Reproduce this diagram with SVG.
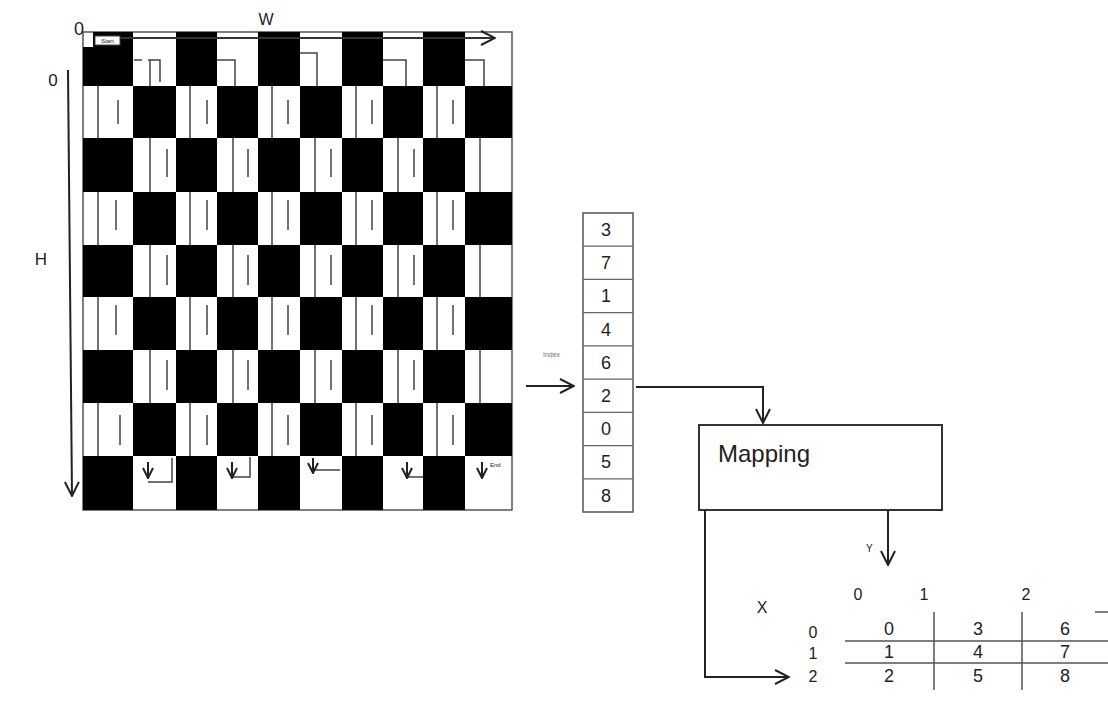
<svg xmlns="http://www.w3.org/2000/svg" width="1108" height="718" viewBox="0 0 1108 718">
<defs>
<style>
.t{font-family:"Liberation Sans",Arial,sans-serif;fill:#222}
.blk{fill:#000}
.gl{stroke:#444;stroke-width:1.5;fill:none}
.ln{stroke:#222;stroke-width:2;fill:none}
.bd{fill:none;stroke:#555;stroke-width:1.5}
</style>
<marker id="ah" viewBox="0 0 16 16" refX="15" refY="8" markerWidth="16" markerHeight="16" markerUnits="userSpaceOnUse" orient="auto"><path d="M1,1 L15,8 L1,15" fill="none" stroke="#222" stroke-width="2"/></marker>
<marker id="ahs" viewBox="0 0 12 12" refX="11" refY="6" markerWidth="12" markerHeight="12" markerUnits="userSpaceOnUse" orient="auto"><path d="M1,1 L11,6 L1,11" fill="none" stroke="#222" stroke-width="2"/></marker>
</defs>
<rect width="1108" height="718" fill="#fff"/>

<g id="board">
<rect class="bd" x="83" y="32" width="429" height="478"/>
<g class="gl">
<path d="M148,86V138M164,95V130M231,86V138M247,95V130M315,86V138M331,95V130M398,86V138M414,95V130M480,86V138"/>
<path d="M98,86V138M118,100V124M190,86V138M207,100V124M272,86V138M288,100V124M356,86V138M372,100V124M437,86V138M453,100V124"/>
<path d="M150,138V192M167,149V177M233,138V192M248,149V177M315,138V192M331,149V177M398,138V192M414,149V177M480,138V192"/>
<path d="M98,192V245M116,200V230M190,192V245M207,200V230M272,192V245M288,200V230M356,192V245M372,200V230M437,192V245M453,200V230"/>
<path d="M150,245V297M167,255V285M233,245V297M248,255V285M315,245V297M331,255V285M398,245V297M414,255V285M480,245V297"/>
<path d="M98,297V350M116,305V335M190,297V350M207,305V335M272,297V350M288,305V335M356,297V350M372,305V335M437,297V350M453,305V335"/>
<path d="M150,350V403M167,360V390M233,350V403M248,360V390M315,350V403M331,360V390M398,350V403M414,360V390M480,350V403"/>
<path d="M98,403V456M120,415V445M190,403V456M207,415V445M272,403V456M288,415V445M356,403V456M372,415V445M437,403V456M453,415V445"/>
<path d="M134,60H142M150,60V86M148,60H160V82M217,60H235V86M300,53H317V86M383,60H406V86M465,60H484V86"/>
<path d="M172,458V482H148M250,457V477H232M340,470H313M423,477H407"/>
</g>
<path class="blk" d="M93,32H133V86H83V47H93Z M176,32h41v54h-41z M258,32h42v54h-42z M342,32h41v54h-41z M423,32h42v54h-42z
M133,86h43v52h-43z M217,86h41v52h-41z M300,86h42v52h-42z M383,86h40v52h-40z M465,86h47v52h-47z
M83,138h50v54h-50z M176,138h41v54h-41z M258,138h42v54h-42z M342,138h41v54h-41z M423,138h42v54h-42z
M133,192h43v53h-43z M217,192h41v53h-41z M300,192h42v53h-42z M383,192h40v53h-40z M465,192h47v53h-47z
M83,245h50v52h-50z M176,245h41v52h-41z M258,245h42v52h-42z M342,245h41v52h-41z M423,245h42v52h-42z
M133,297h43v53h-43z M217,297h41v53h-41z M300,297h42v53h-42z M383,297h40v53h-40z M465,297h47v53h-47z
M83,350h50v53h-50z M176,350h41v53h-41z M258,350h42v53h-42z M342,350h41v53h-41z M423,350h42v53h-42z
M133,403h43v53h-43z M217,403h41v53h-41z M300,403h42v53h-42z M383,403h40v53h-40z M465,403h47v53h-47z
M83,456h50v54h-50z M176,456h41v54h-41z M258,456h42v54h-42z M342,456h41v54h-41z M423,456h42v54h-42z"/>
<rect x="95" y="36" width="25" height="9" fill="#fff" stroke="#444" stroke-width="1"/>
<text class="t" x="107.5" y="43" font-size="6" text-anchor="middle">Start</text>
<g class="ln">
<path d="M148,462V478" marker-end="url(#ahs)"/>
<path d="M232,462V478" marker-end="url(#ahs)"/>
<path d="M313,458V473" marker-end="url(#ahs)"/>
<path d="M407,462V478" marker-end="url(#ahs)"/>
<path d="M482,462V478" marker-end="url(#ahs)"/>
</g>
<text class="t" x="490" y="467" font-size="6">End</text>
</g>

<g id="labels">
<text class="t" x="79" y="35" font-size="18" text-anchor="middle">0</text>
<text class="t" x="266" y="25" font-size="16" text-anchor="middle">W</text>
<text class="t" x="53" y="86" font-size="17" text-anchor="middle">0</text>
<text class="t" x="41" y="265" font-size="17" text-anchor="middle">H</text>
<text class="t" x="543" y="357" font-size="7" style="fill:#777">Index</text>
</g>

<g id="index-array">
<rect x="583" y="213" width="50" height="299" fill="#fff" stroke="#555" stroke-width="1.5"/>
<path d="M583,246.2H633M583,279.4H633M583,312.7H633M583,345.9H633M583,379.1H633M583,412.3H633M583,445.6H633M583,478.8H633" stroke="#666" stroke-width="1.2"/>
<g class="t" font-size="18" text-anchor="middle">
<text x="606" y="236">3</text>
<text x="606" y="269">7</text>
<text x="606" y="302">1</text>
<text x="606" y="336">4</text>
<text x="606" y="369">6</text>
<text x="606" y="402">2</text>
<text x="606" y="435">0</text>
<text x="606" y="468">5</text>
<text x="606" y="502">8</text>
</g>
</g>

<g id="mapping">
<rect x="699" y="425" width="243" height="85" fill="#fff" stroke="#333" stroke-width="2"/>
<text class="t" x="718" y="462" font-size="24">Mapping</text>
</g>

<g id="result-table">
<text class="t" x="866" y="552" font-size="10">Y</text>
<g class="t" font-size="16" text-anchor="middle">
<text x="858" y="600">0</text>
<text x="924" y="600">1</text>
<text x="1026" y="600">2</text>
<text x="762" y="613">X</text>
<text x="813" y="638">0</text>
<text x="813" y="659">1</text>
<text x="813" y="682">2</text>
</g>
<path d="M845,641H1108M845,663H1108M1095,612H1108" stroke="#555" stroke-width="1.5"/>
<path d="M934,612V690M1022,612V690" stroke="#555" stroke-width="1.5"/>
<g class="t" font-size="18" text-anchor="middle">
<text x="889" y="635">0</text>
<text x="978" y="635">3</text>
<text x="1065" y="635">6</text>
<text x="889" y="658">1</text>
<text x="978" y="658">4</text>
<text x="1065" y="658">7</text>
<text x="889" y="682">2</text>
<text x="978" y="682">5</text>
<text x="1065" y="682">8</text>
</g>
</g>

<g id="connectors" class="ln">
<path d="M120,38H495" stroke="#333" marker-end="url(#ah)"/>
<path d="M68,70L72,496" marker-end="url(#ah)"/>
<path d="M526,386H574" marker-end="url(#ah)"/>
<path d="M636,387H763V423" marker-end="url(#ah)"/>
<path d="M888,510V565" marker-end="url(#ah)"/>
<path d="M705,510V677H789" marker-end="url(#ah)"/>
</g>
</svg>
